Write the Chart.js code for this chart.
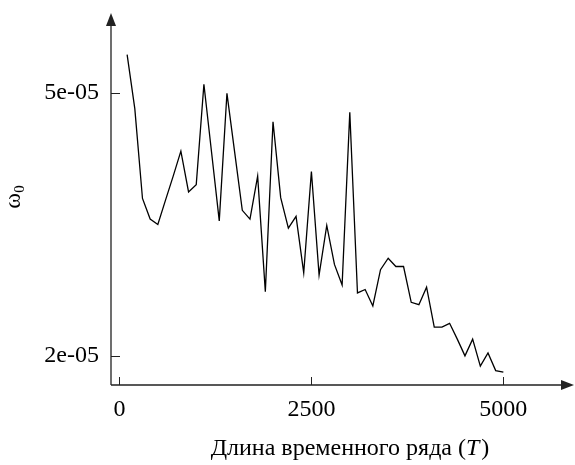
<!DOCTYPE html>
<html lang="ru">
<head>
<meta charset="UTF-8">
<title>omega0</title>
<script src="https://cdn.jsdelivr.net/npm/chart.js@4.4.0/dist/chart.umd.min.js"></script>
<style>
  body { margin: 0; background: #fff; }
  #wrap { width: 575px; height: 465px; position: relative; }
</style>
</head>
<body>
<div id="wrap"><canvas id="myChart"></canvas></div>
<script>
// длина ряда T
const seriesLength = [100, 200, 300, 400, 500, 600, 700, 800, 900, 1000,
  1100, 1200, 1300, 1400, 1500, 1600, 1700, 1800, 1900, 2000,
  2100, 2200, 2300, 2400, 2500, 2600, 2700, 2800, 2900, 3000,
  3100, 3200, 3300, 3400, 3500, 3600, 3700, 3800, 3900, 4000,
  4100, 4200, 4300, 4400, 4500, 4600, 4700, 4800, 4900, 5000];
// omega_0
const omega0 = [5.71e-5, 4.73e-5, 3.46e-5, 3.22e-5, 3.16e-5, 3.44e-5, 3.74e-5, 4.08e-5, 3.54e-5, 3.63e-5,
  5.15e-5, 4.06e-5, 3.20e-5, 4.99e-5, 4.07e-5, 3.32e-5, 3.22e-5, 3.74e-5, 2.50e-5, 4.52e-5,
  3.47e-5, 3.12e-5, 3.25e-5, 2.67e-5, 3.80e-5, 2.65e-5, 3.15e-5, 2.75e-5, 2.56e-5, 4.67e-5,
  2.49e-5, 2.52e-5, 2.38e-5, 2.70e-5, 2.81e-5, 2.73e-5, 2.73e-5, 2.41e-5, 2.39e-5, 2.54e-5,
  2.21e-5, 2.21e-5, 2.24e-5, 2.12e-5, 2.00e-5, 2.12e-5, 1.93e-5, 2.02e-5, 1.90e-5, 1.89e-5];

const xTicks = [0, 2500, 5000];
const yTicks = [2e-5, 5e-5];

const FONT = '"Liberation Serif", "Times New Roman", serif';
const AXIS_COLOR = '#222';

function fmtY(v) {
  // R style: 5e-05
  const s = v.toExponential(0);
  return s.replace(/e([+-])(\d)$/, 'e$10$2');
}

// axes with arrows, inner ticks, titles
const axesPlugin = {
  id: 'axesPlugin',
  afterDraw(chart) {
    const ctx = chart.ctx;
    const a = chart.chartArea;
    const xs = chart.scales.x, ys = chart.scales.y;
    ctx.save();
    ctx.strokeStyle = AXIS_COLOR;
    ctx.fillStyle = AXIS_COLOR;
    ctx.lineWidth = 1.3;
    ctx.beginPath();
    ctx.moveTo(a.left, a.bottom);
    ctx.lineTo(a.left, a.top + 8);
    ctx.moveTo(a.left, a.bottom);
    ctx.lineTo(a.right - 8, a.bottom);
    ctx.stroke();
    // arrow heads
    ctx.beginPath();
    ctx.moveTo(a.left, a.top);
    ctx.lineTo(a.left - 5, a.top + 13);
    ctx.lineTo(a.left + 5, a.top + 13);
    ctx.closePath();
    ctx.fill();
    ctx.beginPath();
    ctx.moveTo(a.right, a.bottom);
    ctx.lineTo(a.right - 13, a.bottom - 5);
    ctx.lineTo(a.right - 13, a.bottom + 5);
    ctx.closePath();
    ctx.fill();
    // inner ticks
    ctx.lineWidth = 1;
    ctx.beginPath();
    xTicks.forEach(v => {
      const px = Math.round(xs.getPixelForValue(v)) + 0.5;
      ctx.moveTo(px, a.bottom);
      ctx.lineTo(px, a.bottom - 8);
    });
    yTicks.forEach(v => {
      const py = Math.round(ys.getPixelForValue(v)) + 0.5;
      ctx.moveTo(a.left, py);
      ctx.lineTo(a.left + 9, py);
    });
    ctx.stroke();

    // x title with italic T
    ctx.fillStyle = '#000';
    ctx.textBaseline = 'alphabetic';
    ctx.textAlign = 'left';
    const p1 = 'Длина временного ряда (', p2 = 'T', p3 = ')';
    ctx.font = '24px ' + FONT;
    const w1 = ctx.measureText(p1).width, w3 = ctx.measureText(p3).width;
    ctx.font = 'italic 24px ' + FONT;
    const w2 = ctx.measureText(p2).width + 2;
    let x0 = 350 - (w1 + w2 + w3) / 2;
    const yb = 455;
    ctx.font = '24px ' + FONT;
    ctx.fillText(p1, x0, yb);
    ctx.font = 'italic 24px ' + FONT;
    ctx.fillText(p2, x0 + w1, yb);
    ctx.font = '24px ' + FONT;
    ctx.fillText(p3, x0 + w1 + w2, yb);

    // y title omega_0
    ctx.translate(20, 197);
    ctx.rotate(-Math.PI / 2);
    ctx.font = '24px ' + FONT;
    const wo = ctx.measureText('ω').width;
    ctx.font = '15px ' + FONT;
    const ws = ctx.measureText('0').width;
    const sx = -(wo + ws) / 2;
    ctx.font = '24px ' + FONT;
    ctx.fillText('ω', sx, 0);
    ctx.font = '15px ' + FONT;
    ctx.fillText('0', sx + wo, 4);
    ctx.restore();
  }
};

const data = {
  labels: seriesLength,
  datasets: [{
    label: 'omega0',
    data: seriesLength.map((t, i) => ({ x: t, y: omega0[i] })),
    borderColor: '#000',
    borderWidth: 1.3,
    pointRadius: 0,
    tension: 0,
    fill: false
  }]
};

const config = {
  type: 'line',
  data: data,
  options: {
    responsive: true,
    maintainAspectRatio: false,
    animation: false,
    layout: { padding: { left: 0, right: 1, top: 13, bottom: 0 } },
    plugins: { legend: { display: false }, tooltip: { enabled: false } },
    scales: {
      x: {
        type: 'linear',
        min: -110,
        max: 5920,
        afterFit(scale) {
          scale.height = 80;
          scale.paddingLeft = 0;
          scale.paddingRight = 0;
        },
        afterBuildTicks(scale) { scale.ticks = xTicks.map(v => ({ value: v })); },
        grid: { display: false, drawTicks: false },
        border: { display: false },
        ticks: {
          padding: 10,
          color: '#000',
          font: { family: FONT, size: 24 },
          maxRotation: 0,
          callback: v => String(v)
        }
      },
      y: {
        type: 'logarithmic',
        bounds: 'data',
        min: 1.807e-5,
        max: 6.6e-5,
        afterFit(scale) {
          scale.width = 111;
          scale.paddingTop = 0;
          scale.paddingBottom = 0;
        },
        afterBuildTicks(scale) { scale.ticks = yTicks.map(v => ({ value: v })); },
        grid: { display: false, drawTicks: false },
        border: { display: false },
        ticks: {
          padding: 12,
          color: '#000',
          font: { family: FONT, size: 24 },
          callback: v => fmtY(v)
        }
      }
    }
  },
  plugins: [axesPlugin]
};

const myChart = new Chart(document.getElementById('myChart'), config);
</script>
</body>
</html>
